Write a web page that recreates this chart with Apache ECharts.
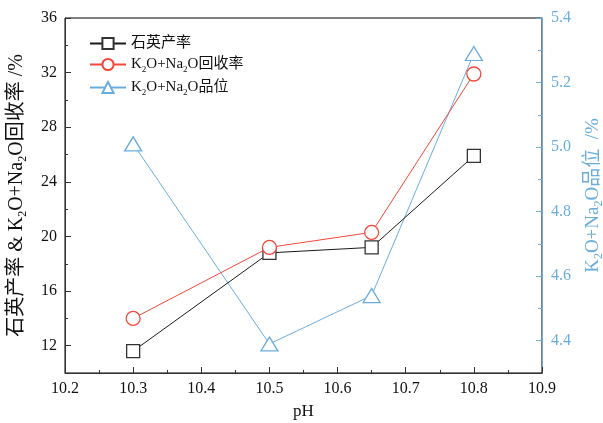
<!DOCTYPE html>
<html>
<head>
<meta charset="utf-8">
<script src="https://cdn.jsdelivr.net/npm/echarts@6/dist/echarts.min.js"></script>
<style>
  html, body { margin: 0; padding: 0; background: #fff; }
  #chart { width: 603px; height: 423px; }
</style>
</head>
<body>
<div id="chart"></div>
<script>
// pH 值
const phValues = [10.3, 10.5, 10.65, 10.8]
// 石英产率 /%
const quartzYield = [11.6, 18.8, 19.2, 25.9]
// K2O+Na2O回收率 /%
const alkaliRecovery = [14.0, 19.2, 20.3, 31.9]
// K2O+Na2O品位 /%
const alkaliGrade = [5.01, 4.39, 4.54, 5.29]

const leftLabels = [12, 16, 20, 24, 28, 32, 36]
const leftMinor = [14, 18, 22, 26, 30, 34]
const rightLabels = [4.4, 4.6, 4.8, 5.0, 5.2, 5.4]
const rightMinor = [4.5, 4.7, 4.9, 5.1, 5.3]

const seriesNames = ['石英产率', 'K2O+Na2O回收率', 'K2O+Na2O品位']

const BLACK = '#1a1a1a'
const RED = '#f4473a'
const BLUE = '#6aaddd'
const FONT = '"Liberation Serif", "Noto Sans CJK SC", serif'

// 下标用富文本
function subRich (size, color) {
  return {
    n: { fontFamily: FONT, fontSize: size, color: color, lineHeight: size + 4 },
    s: { fontFamily: FONT, fontSize: Math.round(size * 0.62), color: color, lineHeight: Math.round(size * 0.62) + 2, verticalAlign: 'bottom' }
  }
}
function withSub (text) {
  return text.split(/(2)/).filter(t => t !== '').map(t => t === '2' ? `{s|2}` : `{n|${t}}`).join('')
}

function pairs (ys) {
  return phValues.map((x, i) => [x, ys[i]])
}

let myChart = echarts.init(document.getElementById('chart'))
let options = {
  animation: false,
  textStyle: { fontFamily: FONT },
  grid: {
    left: 65,
    right: 61,
    top: 18,
    bottom: 50,
    outerBoundsMode: 'none',
    show: true,
    borderColor: '#000',
    borderWidth: 1
  },
  legend: {
    left: 84,
    top: 31,
    orient: 'vertical',
    itemWidth: 36,
    itemHeight: 14,
    itemGap: 6,
    data: seriesNames,
    formatter: name => withSub(name),
    textStyle: { rich: subRich(15, '#111') }
  },
  xAxis: {
    type: 'value',
    min: 10.2,
    max: 10.9,
    interval: 0.1,
    name: 'pH',
    nameLocation: 'middle',
    nameGap: 30,
    nameTextStyle: { fontFamily: FONT, fontSize: 17, color: '#111' },
    axisLine: { lineStyle: { color: '#333', width: 1 } },
    axisTick: { inside: true, length: 6, lineStyle: { color: '#333' } },
    minorTick: { show: true, splitNumber: 2, length: 3, lineStyle: { color: '#333' } },
    splitLine: { show: false },
    axisLabel: { fontFamily: FONT, fontSize: 16, color: '#111', margin: 8, formatter: v => v.toFixed(1) }
  },
  yAxis: [
    {
      type: 'value',
      position: 'left',
      min: 10,
      max: 36,
      name: withSub('石英产率 & K2O+Na2O回收率 /%'),
      nameLocation: 'middle',
      nameRotate: 90,
      nameGap: 36,
      nameTextStyle: { rich: subRich(20, '#111') },
      axisLine: { show: true, lineStyle: { color: '#333', width: 1 } },
      axisTick: { inside: true, length: 6, customValues: leftLabels, lineStyle: { color: '#333' } },
      axisLabel: { fontFamily: FONT, fontSize: 16, color: '#111', margin: 8, customValues: leftLabels },
      splitLine: { show: false }
    },
    {
      type: 'value',
      position: 'right',
      min: 4.3,
      max: 5.4,
      name: withSub('K2O+Na2O品位  /%'),
      nameLocation: 'middle',
      nameRotate: 90,
      nameGap: 40,
      nameTextStyle: { rich: subRich(19, BLUE) },
      axisLine: { show: true, lineStyle: { color: BLUE, width: 1 } },
      axisTick: { inside: true, length: 6, customValues: rightLabels, lineStyle: { color: BLUE } },
      axisLabel: { fontFamily: FONT, fontSize: 16, color: BLUE, margin: 9, customValues: rightLabels, formatter: v => v.toFixed(1) },
      splitLine: { show: false }
    },
    {
      type: 'value',
      position: 'left',
      min: 10,
      max: 36,
      axisLine: { show: false },
      axisTick: { show: true, inside: true, length: 3, customValues: leftMinor, lineStyle: { color: '#333' } },
      axisLabel: { show: false },
      splitLine: { show: false }
    },
    {
      type: 'value',
      position: 'right',
      min: 4.3,
      max: 5.4,
      axisLine: { show: false },
      axisTick: { show: true, inside: true, length: 4, customValues: rightMinor, lineStyle: { color: BLUE } },
      axisLabel: { show: false },
      splitLine: { show: false }
    }
  ],
  series: [
    {
      name: seriesNames[0],
      type: 'line',
      yAxisIndex: 0,
      data: pairs(quartzYield),
      symbol: 'rect',
      symbolSize: 13,
      lineStyle: { color: BLACK, width: 1 },
      itemStyle: { color: '#fff', borderColor: '#333', borderWidth: 1.3 },
      z: 3
    },
    {
      name: seriesNames[1],
      type: 'line',
      yAxisIndex: 0,
      data: pairs(alkaliRecovery),
      symbol: 'circle',
      symbolSize: 14,
      lineStyle: { color: RED, width: 1 },
      itemStyle: { color: '#fff', borderColor: RED, borderWidth: 1.3 },
      z: 4
    },
    {
      name: seriesNames[2],
      type: 'line',
      yAxisIndex: 1,
      data: pairs(alkaliGrade),
      symbol: 'triangle',
      symbolSize: [17, 14],
      lineStyle: { color: BLUE, width: 1 },
      itemStyle: { color: '#fff', borderColor: BLUE, borderWidth: 1.3 },
      z: 2
    }
  ]
}
myChart.setOption(options)
</script>
</body>
</html>
